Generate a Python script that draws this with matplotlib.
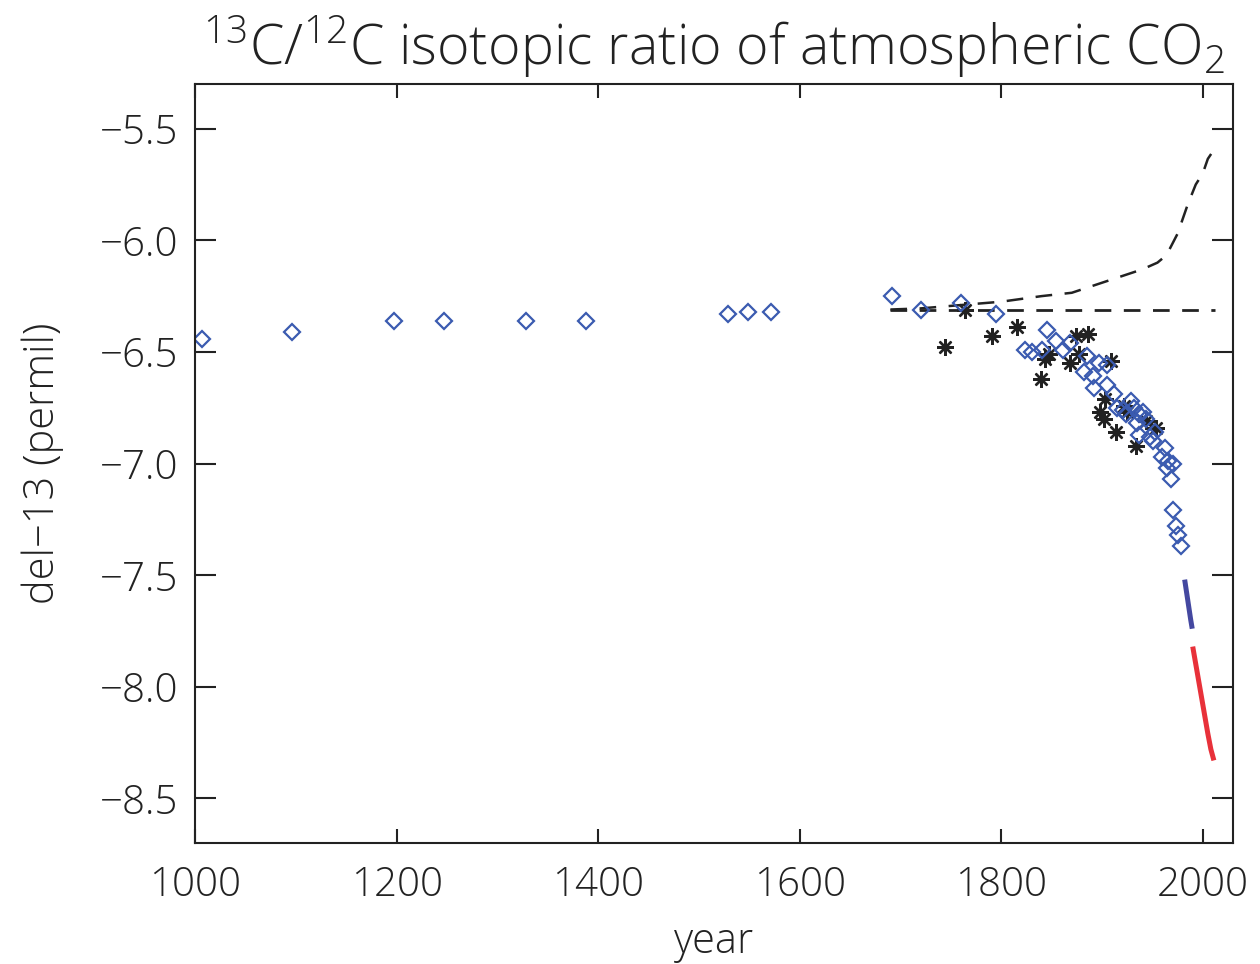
import matplotlib
matplotlib.use("Agg")
import matplotlib.pyplot as plt

plt.rcParams['font.family'] = ['Open Sans', 'DejaVu Sans']
plt.rcParams['font.weight'] = 'light'
plt.rcParams['axes.titleweight'] = 'light'
plt.rcParams['axes.labelweight'] = 'light'
plt.rcParams['mathtext.fontset'] = 'custom'
plt.rcParams['mathtext.rm'] = 'Open Sans:light'
plt.rcParams['mathtext.it'] = 'Open Sans:italic:light'
plt.rcParams['lines.scale_dashes'] = False

# Ice-core / firn diamonds (blue)
diamond_year = [1007, 1096, 1197, 1247, 1328, 1388, 1529, 1549, 1572, 1692, 1720, 1760, 1795,
                1845, 1824, 1831, 1840, 1854, 1861, 1868, 1885, 1882, 1891, 1892, 1897, 1905,
                1905, 1912, 1915, 1921, 1929, 1924, 1932, 1937, 1941, 1935, 1944, 1937, 1948,
                1951, 1953, 1962, 1960, 1965, 1970, 1964, 1968, 1970, 1973, 1975, 1978]
diamond_d13 = [-6.44, -6.41, -6.36, -6.36, -6.36, -6.36, -6.33, -6.32, -6.32, -6.25, -6.31, -6.28, -6.33,
               -6.40, -6.49, -6.50, -6.49, -6.45, -6.49, -6.46, -6.52, -6.59, -6.61, -6.66, -6.55, -6.56,
               -6.65, -6.69, -6.75, -6.76, -6.72, -6.78, -6.75, -6.78, -6.77, -6.82, -6.80, -6.87, -6.88,
               -6.90, -6.86, -6.93, -6.97, -6.99, -7.00, -7.02, -7.07, -7.21, -7.28, -7.32, -7.37]

# Tree-ring / other asterisks (black)
star_year = [1744, 1764, 1791, 1816, 1839, 1843, 1847, 1868, 1874, 1877, 1886, 1909,
             1903, 1898, 1902, 1914, 1934, 1954, 1944, 1922, 1925]
star_d13 = [-6.48, -6.31, -6.43, -6.39, -6.62, -6.53, -6.51, -6.55, -6.43, -6.51, -6.42, -6.54,
            -6.71, -6.77, -6.80, -6.86, -6.92, -6.84, -6.81, -6.74, -6.77]

# Direct atmospheric measurements
blue_year = [1982, 1984, 1986, 1988, 1989.5]
blue_d13 = [-7.52, -7.58, -7.64, -7.70, -7.74]
red_year = [1990, 1995, 2000, 2005, 2008, 2011]
red_d13 = [-7.82, -7.95, -8.08, -8.21, -8.28, -8.33]

# Dashed reference curves
flat_year = [1690, 2012]
flat_d13 = [-6.31, -6.31]
curve_year = [1690, 1720, 1760, 1800, 1840, 1870, 1900, 1920, 1940, 1955, 1963, 1967,
              1975, 1985, 1993, 2000, 2005, 2011]
curve_d13 = [-6.31, -6.305, -6.29, -6.275, -6.25, -6.235, -6.19, -6.16, -6.13, -6.10, -6.07, -6.04,
             -5.97, -5.84, -5.75, -5.70, -5.635, -5.595]

xticks = [1000, 1200, 1400, 1600, 1800, 2000]
yticks = [-5.5, -6.0, -6.5, -7.0, -7.5, -8.0, -8.5]

fig = plt.figure(figsize=(12.6, 9.64), dpi=100)
ax = fig.add_axes([0.1548, 0.1255, 0.8238, 0.7873])

dash = (0, (12, 9))
ax.plot(flat_year, flat_d13, color='#222222', lw=2.0, linestyle=dash)
ax.plot(curve_year, curve_d13, color='#222222', lw=1.8, linestyle=dash)
ax.plot(star_year, star_d13, linestyle='none', marker=(8, 2, 0), ms=12, mew=1.7,
        color='#222222')
ax.plot(diamond_year, diamond_d13, linestyle='none', marker='D', ms=7.8, mew=1.6,
        mfc='none', mec='#3b5bb0')
ax.plot(blue_year, blue_d13, color='#4448a0', lw=3.6, solid_capstyle='butt')
ax.plot(red_year, red_d13, color='#e8313a', lw=3.6, solid_capstyle='butt')

ax.set_xlim(1000, 2030)
ax.set_ylim(-8.7, -5.3)
ax.set_xticks(xticks)
ax.set_xticklabels([str(t) for t in xticks])
ax.set_yticks(yticks)
ax.set_yticklabels(['\u2212%.1f' % abs(t) for t in yticks])

for s in ax.spines.values():
    s.set_linewidth(1.5)
    s.set_color('#222222')
ax.tick_params(axis='x', which='major', direction='in', length=10, width=1.5,
               top=True, bottom=True, labelsize=29, pad=16, colors='#222222')
ax.tick_params(axis='y', which='major', direction='in', length=15, width=1.5,
               left=True, right=True, labelsize=29, pad=12, colors='#222222')

ax.set_xlabel('year', fontsize=30, color='#222222', labelpad=10, fontweight='light')
ax.set_ylabel('del\u221213 (permil)', fontsize=30, color='#222222', labelpad=26,
              fontweight='light')
ax.set_title(r'$^{13}$C/$^{12}$C isotopic ratio of atmospheric CO$_2$',
             fontsize=40, color='#222222', pad=14, fontweight='light')

fig.savefig('out.png', dpi=100)
